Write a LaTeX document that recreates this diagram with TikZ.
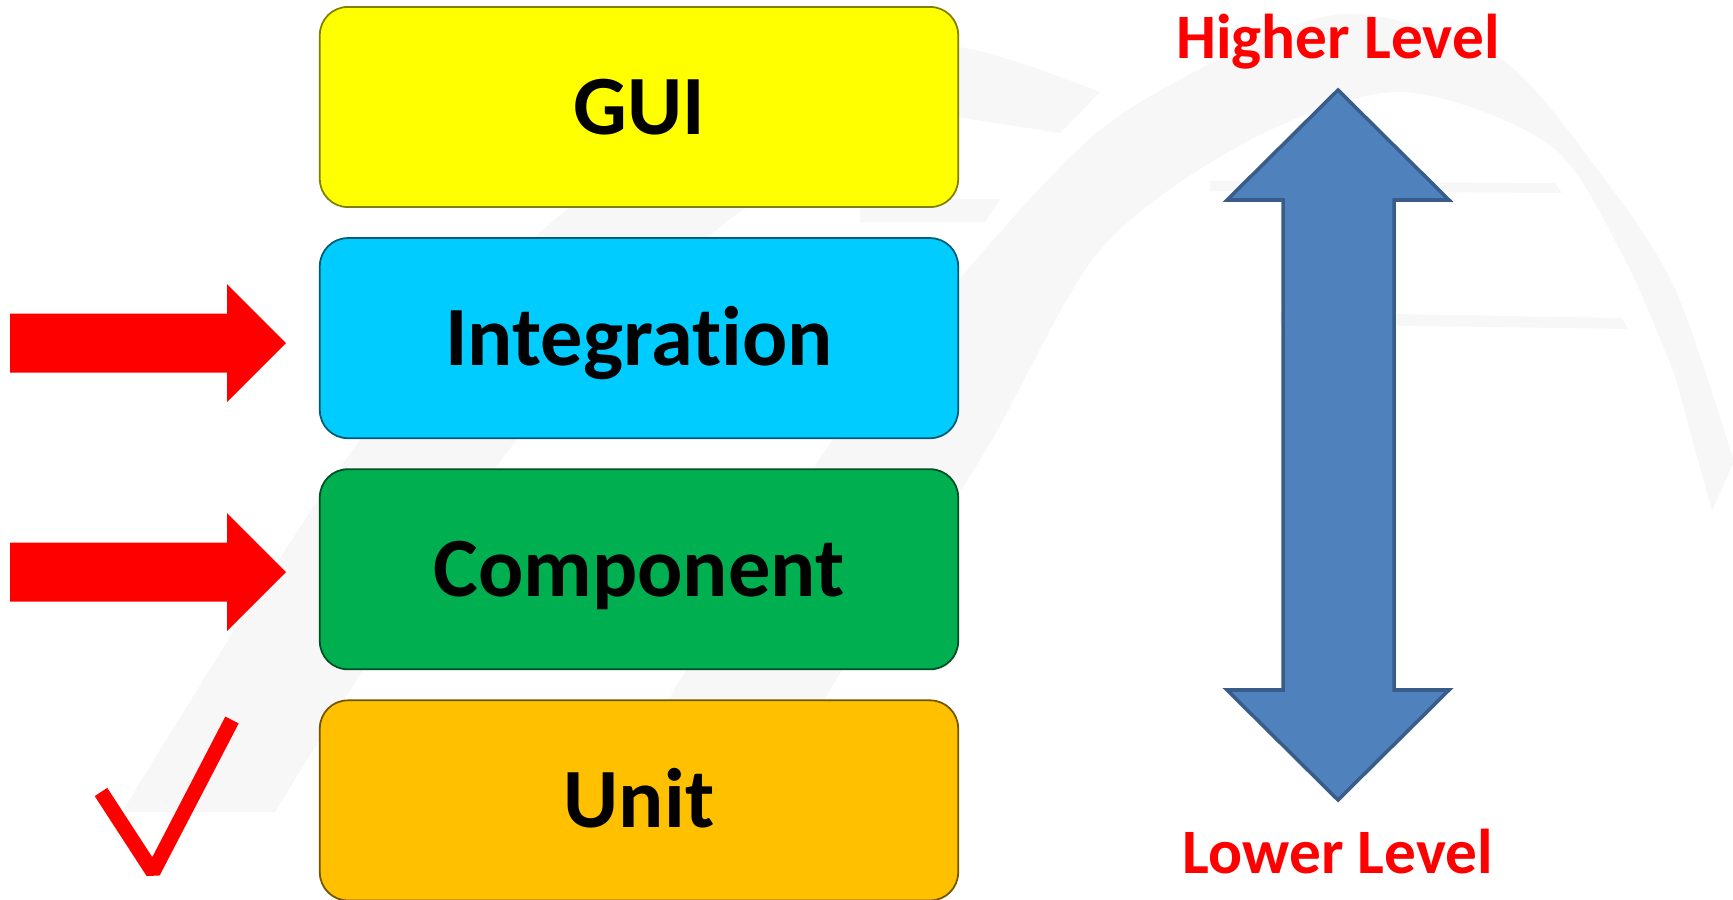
\documentclass[tikz,border=0pt]{standalone}
\usepackage{fontspec}
\setmainfont{Carlito}[Ligatures=NoCommon]
\usetikzlibrary{positioning}

\definecolor{guiyellow}{HTML}{FFFF00}
\definecolor{intblue}{HTML}{00CCFF}
\definecolor{compgreen}{HTML}{00B050}
\definecolor{unitorange}{HTML}{FFC000}
\definecolor{levelblue}{HTML}{4F81BD}
\definecolor{levelborder}{HTML}{385D8A}
\definecolor{markgray}{HTML}{F7F7F7}

\tikzset{
  layer/.style={rectangle, rounded corners=0.28cm, minimum width=6.38cm,
    minimum height=2cm, inner sep=0pt, outer sep=0pt, line width=0.5pt,
    font=\fontsize{24}{28}\selectfont\bfseries, text height=0.54cm, text depth=0pt},
  levellabel/.style={text=red, font=\fontsize{18}{22}\selectfont\bfseries,
    inner sep=0pt, anchor=base},
}

\begin{document}
\begin{tikzpicture}[x=0.01cm, y=-0.01cm, node distance=0.31cm]
	\useasboundingbox (0,0) rectangle (1733,900);

	% faint logo in the background
	\fill[markgray] plot[smooth] coordinates {(122,812) (349,455) (554,220) (800,75) (950,46) (1100,92)}
		-- (1060,133) -- plot[smooth] coordinates {(950,116) (729,220) (505,455) (275,812)} -- cycle;
	\fill[markgray] plot[smooth] coordinates {(610,812) (680,680) (822,455) (950,290) (1100,130) (1260,40) (1360,14) (1500,58) (1600,173) (1675,289) (1734,462)}
		-- (1712,511) -- plot[smooth] coordinates {(1675,376) (1625,260) (1550,145) (1400,92) (1250,140) (1100,250) (983,455) (836,680) (760,812)} -- cycle;
	\fill[markgray] (860,199) -- (1000,199) -- (985,222) -- (860,222) -- cycle;
	\fill[markgray] (1210,181) -- (1555,183) -- (1562,193) -- (1210,191) -- cycle;
	\fill[markgray] (1280,312) -- (1622,318) -- (1628,329) -- (1280,324) -- cycle;

	% test levels
	\node[layer, fill=guiyellow, draw=guiyellow!50!black] (gui) at (639,107) {GUI};
	\node[layer, fill=intblue, draw=intblue!45!black, below=of gui] (integ) {Integration};
	\node[layer, fill=compgreen, draw=compgreen!45!black, below=of integ] (comp) {Component};
	\node[layer, fill=unitorange, draw=unitorange!45!black, below=of comp] (unit) {Unit};

	% red pointers
	\foreach \y in {343,572}
		\fill[red] (10,\y-29.5) -- (227,\y-29.5) -- (227,\y-59) -- (286,\y) -- (227,\y+59)
			-- (227,\y+29.5) -- (10,\y+29.5) -- cycle;

	% tick
	\draw[red, line width=0.15cm, line join=bevel] (101,792) -- (153,872) -- (232,720);

	% level arrow
	\draw[levelborder, fill=levelblue, line width=1pt] (1338,90) -- (1449,200) -- (1394,200) -- (1394,690)
		-- (1449,690) -- (1338,800) -- (1227,690) -- (1283,690) -- (1283,200) -- (1227,200) -- cycle;
	\node[levellabel] (high) at (1338,58) {Higher Level};
	\node[levellabel] (low) at (1338,873) {Lower Level};
\end{tikzpicture}
\end{document}
